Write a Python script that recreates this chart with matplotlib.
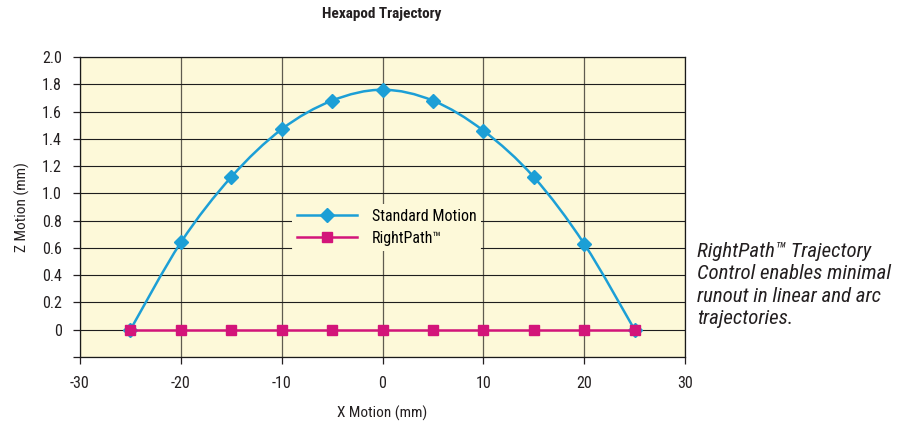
import matplotlib
matplotlib.use("Agg")
import matplotlib.pyplot as plt
from matplotlib.path import Path
from matplotlib.patches import PathPatch
from matplotlib.lines import Line2D

plt.rcParams['font.family'] = ['Roboto Condensed', 'DejaVu Sans']
plt.rcParams['axes.unicode_minus'] = False

# data
x_std = [-25, -20, -15, -10, -5, 0, 5, 10, 15, 20, 25]
z_std = [0.0, 0.64, 1.12, 1.47, 1.68, 1.76, 1.68, 1.46, 1.12, 0.63, 0.0]
x_rp = [-25, -20, -15, -10, -5, 0, 5, 10, 15, 20, 25]
z_rp = [0, 0, 0, 0, 0, 0, 0, 0, 0, 0, 0]
xticks = [-30, -20, -10, 0, 10, 20, 30]
yticks = [-0.2, 0.0, 0.2, 0.4, 0.6, 0.8, 1.0, 1.2, 1.4, 1.6, 1.8, 2.0]
ylabels = ['', '0', '0.2', '0.4', '0.6', '0.8', '1.0', '1.2', '1.4', '1.6', '1.8', '2.0']

BLUE = '#1C9FD6'
MAG = '#D3157A'
BG = '#FDF9D9'
TXT = '#231F20'

fig = plt.figure(figsize=(9.19, 4.30), dpi=100)
ax = fig.add_axes([80/919, 1-357/430, (685-80)/919, (357-57)/430])
ax.set_facecolor(BG)
ax.set_xlim(-30, 30)
ax.set_ylim(-0.2, 2.0)
ax.set_xticks(xticks)
ax.set_yticks(yticks)
ax.set_yticklabels(ylabels)
ax.xaxis.grid(True, color='#5f5c50', linewidth=0.9)
ax.yaxis.grid(True, color='#1e1e1e', linewidth=0.8)
ax.set_axisbelow(True)
for s in ax.spines.values():
    s.set_linewidth(0.9)
    s.set_color('#1a1a1a')
ax.tick_params(axis='both', length=5, width=0.9, labelsize=11.5, colors=TXT)
ax.tick_params(axis='x', pad=9)
ax.tick_params(axis='y', pad=8)

# smooth curve (Catmull-Rom as cubic Bezier) through the data points
verts = [(x_std[0], z_std[0])]
codes = [Path.MOVETO]
n = len(x_std)
for i in range(n - 1):
    p0 = (x_std[max(i-1, 0)], z_std[max(i-1, 0)])
    p1 = (x_std[i], z_std[i])
    p2 = (x_std[i+1], z_std[i+1])
    p3 = (x_std[min(i+2, n-1)], z_std[min(i+2, n-1)])
    c1 = (p1[0] + (p2[0]-p0[0])/6, p1[1] + (p2[1]-p0[1])/6)
    c2 = (p2[0] - (p3[0]-p1[0])/6, p2[1] - (p3[1]-p1[1])/6)
    verts += [c1, c2, p2]
    codes += [Path.CURVE4]*3
ax.add_patch(PathPatch(Path(verts, codes), facecolor='none', edgecolor=BLUE, lw=1.8, zorder=3))
ax.plot(x_std, z_std, linestyle='none', marker='D', color=BLUE, markersize=7, zorder=4)
ax.plot(x_rp, z_rp, color=MAG, lw=1.8, marker='s', markersize=7, zorder=5)

handles = [Line2D([], [], color=BLUE, lw=1.8, marker='D', markersize=7),
           Line2D([], [], color=MAG, lw=1.8, marker='s', markersize=7)]
leg = ax.legend(handles, ['Standard Motion', 'RightPath\u2122'],
                loc='upper left', bbox_to_anchor=((284-80)/605, (357-196)/300),
                frameon=True, fontsize=11.5, handlelength=3.8, labelspacing=0.45,
                borderpad=0.3, handletextpad=0.9)
leg.get_frame().set_facecolor(BG)
leg.get_frame().set_edgecolor('none')
leg.get_frame().set_alpha(1)
leg.set_zorder(6)

fig.text(382/919, 1-14/430, 'Hexapod Trajectory', ha='center', va='center',
         fontsize=11, fontweight='bold', color=TXT)
fig.text(382/919, 1-413/430, 'X Motion (mm)', ha='center', va='center',
         fontsize=11, color=TXT)
fig.text(22/919, 1-207/430, 'Z Motion (mm)', ha='center', va='center',
         rotation=90, fontsize=11, color=TXT)

fig.text(697/919, 1-242/430,
         'RightPath\u2122 Trajectory\nControl enables minimal\nrunout in linear and arc\ntrajectories.',
         ha='left', va='top', fontsize=15, style='italic', color=TXT,
         linespacing=1.22)

fig.savefig('out.png', dpi=100)
